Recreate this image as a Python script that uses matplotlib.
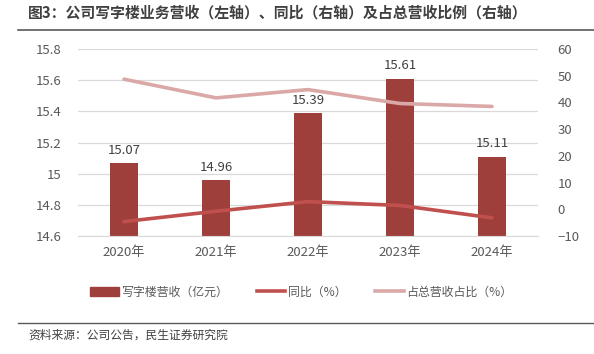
import matplotlib.pyplot as plt
from matplotlib.lines import Line2D
from matplotlib.patches import Patch

plt.rcParams['font.family'] = ['Noto Sans CJK SC', 'DejaVu Sans']

years = ['2020年', '2021年', '2022年', '2023年', '2024年']
revenue = [15.07, 14.96, 15.39, 15.61, 15.11]      # 写字楼营收（亿元）
yoy = [-4.6, -0.73, 2.87, 1.43, -3.2]              # 同比（%）
share = [48.7, 41.7, 44.8, 39.6, 38.5]             # 占总营收占比（%）

BAR_C = '#9E3F3C'
YOY_C = '#C0504D'
SHARE_C = '#DBA8A8'
TXT_C = '#595959'

fig = plt.figure(figsize=(5.94, 3.54), dpi=100)
ax = fig.add_axes([78 / 594, 1 - 236 / 354, (538 - 78) / 594, (236 - 49) / 354])
ax2 = ax.twinx()

x = range(len(years))
ax.bar(x, revenue, width=0.31, color=BAR_C, zorder=2)
for i, v in enumerate(revenue):
    ax.text(i, v + 0.04, f'{v:.2f}', ha='center', va='bottom', fontsize=9.5, color='#404040')

ax.set_ylim(14.6, 15.8)
ax.set_yticks([14.6, 14.8, 15.0, 15.2, 15.4, 15.6, 15.8])
ax.set_yticklabels(['14.6', '14.8', '15', '15.2', '15.4', '15.6', '15.8'])
ax.set_xlim(-0.5, 4.5)
ax.set_xticks(list(x))
ax.set_xticklabels(years)
ax.grid(axis='y', color='#D9D9D9', linewidth=0.9, zorder=0)
ax.set_axisbelow(True)

ax2.plot(x, share, color=SHARE_C, linewidth=2.6, solid_capstyle='round', zorder=3)
ax2.plot(x, yoy, color=YOY_C, linewidth=2.6, solid_capstyle='round', zorder=3)
ax2.set_ylim(-10, 60)
ax2.set_yticks(range(-10, 61, 10))

for a in (ax, ax2):
    for s in a.spines.values():
        s.set_visible(False)
    a.tick_params(length=0, labelsize=9.5, colors=TXT_C)
ax.tick_params(axis='y', pad=12)
ax.tick_params(axis='x', pad=7)
ax2.tick_params(axis='y', pad=14)
ax.spines['bottom'].set_visible(True)
ax.spines['bottom'].set_color('#D9D9D9')

handles = [Patch(color=BAR_C),
           Line2D([], [], color=YOY_C, linewidth=2.6),
           Line2D([], [], color=SHARE_C, linewidth=2.6)]
labels = ['写字楼营收（亿元）', '同比（%）', '占总营收占比（%）']
fig.legend(handles, labels, loc='center', bbox_to_anchor=(301 / 594, 1 - 292 / 354), ncol=3,
           frameon=False, fontsize=8.6, labelcolor=TXT_C, handlelength=2.4,
           handletextpad=0.2, columnspacing=2.4)

fig.text(28 / 594, 1 - 13 / 354, '图3：公司写字楼业务营收（左轴）、同比（右轴）及占总营收比例（右轴）',
         fontsize=10.7, fontweight='bold', color='#404040', va='center', ha='left')
fig.add_artist(Line2D([18 / 594, 1.0], [1 - 30 / 354] * 2, color='#595959', linewidth=1.2))
fig.add_artist(Line2D([18 / 594, 1.0], [1 - 323 / 354] * 2, color='#595959', linewidth=1.0))
fig.text(28 / 594, 1 - 335 / 354, '资料来源：公司公告，民生证券研究院',
         fontsize=8.5, color='#404040', va='center', ha='left')

fig.savefig('out.png', dpi=100)
